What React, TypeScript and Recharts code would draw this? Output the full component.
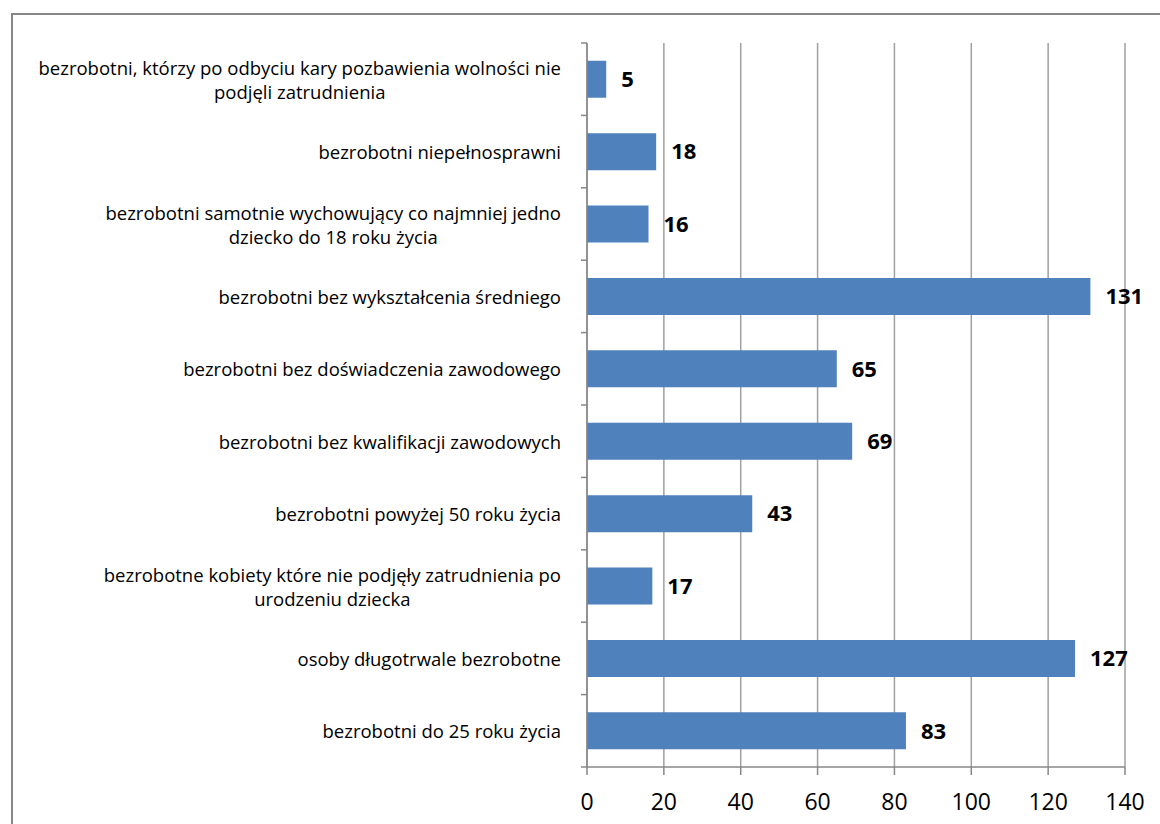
import { BarChart, Bar, XAxis, YAxis, CartesianGrid, LabelList } from 'recharts'

// kategorie od góry do dołu, "\n" = łamanie wiersza jak w oryginale
const categories = [
  'bezrobotni, którzy po odbyciu kary pozbawienia wolności nie\npodjęli zatrudnienia',
  'bezrobotni niepełnosprawni',
  'bezrobotni samotnie wychowujący co najmniej jedno\ndziecko do 18 roku życia',
  'bezrobotni bez wykształcenia średniego',
  'bezrobotni bez doświadczenia zawodowego',
  'bezrobotni bez kwalifikacji zawodowych',
  'bezrobotni powyżej 50 roku życia',
  'bezrobotne kobiety które nie podjęły zatrudnienia po\nurodzeniu dziecka',
  'osoby długotrwale bezrobotne',
  'bezrobotni do 25 roku życia',
]

const counts = [5, 18, 16, 131, 65, 69, 43, 17, 127, 83]

const xTicks = [0, 20, 40, 60, 80, 100, 120, 140]

const data = categories.map((name, i) => ({ name, value: counts[i] }))

const FONT = '"Open Sans", sans-serif'
const LABEL_SIZE = 18.5
const AXIS_GRAY = '#878787'
const TICK_SIZE = 6
const TICK_MARGIN = 20

let ctx: CanvasRenderingContext2D | null = null
function measure(text: string) {
  if (!ctx) ctx = document.createElement('canvas').getContext('2d')
  if (!ctx) return text.length * 9
  ctx.font = `${LABEL_SIZE}px ${FONT}`
  return ctx.measureText(text).width
}

function CategoryTick(props: any) {
  const { x, y, payload } = props
  const lines = String(payload.value).split('\n')
  const half = payload.offset ?? 36
  const lh = 24
  const maxW = Math.max(...lines.map(measure))
  const cx = x - maxW / 2
  const axisX = x + TICK_MARGIN + TICK_SIZE
  return (
    <g>
      <line x1={axisX - TICK_SIZE} x2={axisX} y1={y - half} y2={y - half} stroke={AXIS_GRAY} strokeWidth={1.5} />
      {payload.index === categories.length - 1 && (
        <line x1={axisX - TICK_SIZE} x2={axisX} y1={y + half} y2={y + half} stroke={AXIS_GRAY} strokeWidth={1.5} />
      )}
      {lines.map((line, i) => (
        <text
          key={i}
          x={cx}
          y={y + (i - (lines.length - 1) / 2) * lh}
          textAnchor="middle"
          dominantBaseline="central"
          fontFamily={FONT}
          fontSize={LABEL_SIZE}
          fill="#000"
        >
          {line}
        </text>
      ))}
    </g>
  )
}

export default function App() {
  return (
    <div style={{ position: 'absolute', left: 0, top: 0, width: 1160, height: 824, overflow: 'hidden', background: '#fff' }}>
      <div
        style={{
          position: 'absolute',
          left: 11,
          top: 13,
          width: 1300,
          height: 1000,
          border: `2px solid ${AXIS_GRAY}`,
        }}
      />
      <div style={{ position: 'absolute', left: 0, top: 0 }}>
        <BarChart
          width={1160}
          height={824}
          data={data}
          layout="vertical"
          barCategoryGap="24.5%"
          margin={{ top: 43, right: 35, bottom: 0, left: 0 }}
        >
          <CartesianGrid horizontal={false} vertical={true} stroke="#a0a0a0" strokeWidth={1.5} />
          <XAxis
            type="number"
            domain={[0, 140]}
            ticks={xTicks}
            interval={0}
            height={57}
            tickSize={8}
            tickMargin={19}
            axisLine={{ stroke: AXIS_GRAY, strokeWidth: 1.5 }}
            tickLine={{ stroke: AXIS_GRAY, strokeWidth: 1.5 }}
            tick={{ fontFamily: FONT, fontSize: 23, fill: '#000' }}
          />
          <YAxis
            type="category"
            dataKey="name"
            width={587}
            interval={0}
            tickSize={TICK_SIZE}
            tickMargin={TICK_MARGIN}
            tickLine={false}
            axisLine={{ stroke: AXIS_GRAY, strokeWidth: 1.5 }}
            tick={<CategoryTick />}
          />
          <Bar dataKey="value" fill="#4F81BD" isAnimationActive={false}>
            <LabelList
              dataKey="value"
              position="right"
              offset={15}
              style={{ fontFamily: FONT, fontSize: 22, fontWeight: 'bold', fill: '#000' }}
            />
          </Bar>
        </BarChart>
      </div>
    </div>
  )
}
